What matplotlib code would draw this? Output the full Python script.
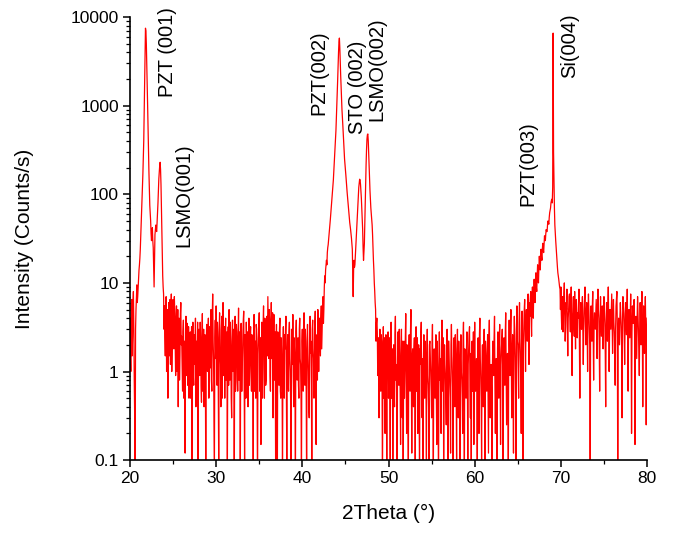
import numpy as np
import matplotlib
matplotlib.use("Agg")
import matplotlib.pyplot as plt
from matplotlib.ticker import FixedLocator, FuncFormatter, LogLocator, NullFormatter

# Lecturas en los grados enteros + decimas (20.0, 20.1, ... 80.0)
# y en los puntos intermedios (20.05, 20.15, ... 79.95).

two_theta = np.arange(400, 1601) / 20.0

counts_20_30 = [
    4.0, 1.0, 6.5, 2.5, 8.0, 0.8, 0.05, 5.0, 9.5, 7.0,
    12, 16, 24, 45, 90, 170, 400, 1500, 7500, 5000,
    1800, 550, 180, 75, 50, 30, 42, 25, 9, 35,
    45, 38, 60, 110, 180, 230, 130, 40, 12, 7.5,
    5.5, 1.5, 7.0, 2.5, 0.5, 6.0, 3.0, 1.2, 7.5, 2.0,
    6.5, 1.8, 4.5, 0.9, 5.5, 2.2, 0.4, 4.0, 1.5, 6.0,
    2.5, 0.6, 3.8, 1.0, 0.12, 4.2, 1.6, 0.7, 3.2, 0.9,
    2.8, 1.1, 0.08, 3.6, 0.7, 2.0, 4.0, 0.5, 1.5, 0.05,
    3.0, 0.9, 2.2, 0.45, 4.5, 1.3, 0.4, 2.6, 0.06, 3.4,
    1.0, 4.0, 0.6, 2.0, 5.0, 0.6, 7.5, 1.4, 0.1, 3.8,
]

counts_30_40 = [
    5.5, 0.7, 2.4, 0.09, 4.6, 1.2, 3.0, 0.5, 6.0, 1.8,
    0.5, 4.0, 1.1, 0.07, 3.2, 5.0, 0.8, 2.2, 0.3, 3.8,
    1.5, 0.05, 4.2, 0.8, 2.8, 0.6, 5.2, 1.0, 0.06, 3.5,
    0.6, 2.5, 4.8, 0.1, 1.8, 3.6, 0.7, 0.4, 4.0, 1.2,
    3.2, 0.6, 2.0, 0.08, 4.4, 1.0, 0.5, 3.0, 0.04, 2.4,
    4.6, 0.9, 0.15, 3.6, 1.6, 5.5, 0.5, 2.8, 0.8, 4.2,
    7.0, 1.4, 3.8, 0.6, 6.0, 2.0, 0.3, 4.4, 1.0, 0.1,
    3.4, 0.05, 2.2, 0.7, 4.0, 0.5, 1.4, 0.06, 3.2, 0.5,
    1.8, 4.2, 0.09, 2.6, 0.6, 3.6, 1.0, 0.05, 2.0, 4.4,
    0.4, 1.6, 0.07, 3.8, 0.8, 2.4, 0.5, 4.0, 1.2, 0.06,
]

counts_40_50 = [
    3.0, 0.6, 4.6, 0.7, 1.8, 0.05, 3.4, 1.0, 0.3, 4.2,
    2.2, 0.08, 3.8, 1.4, 0.6, 4.8, 0.15, 2.6, 5.0, 1.0,
    4.0, 1.5, 5.5, 3.0, 7.0, 5.0, 12, 14, 18, 22,
    27, 35, 45, 60, 80, 110, 145, 220, 340, 525,
    1000, 1950, 4000, 5800, 3000, 1600, 900, 600, 380, 250,
    190, 140, 105, 80, 62, 48, 40, 32, 24, 7,
    18, 16, 24, 38, 60, 100, 135, 145, 110, 70,
    40, 18, 28, 80, 220, 420, 480, 300, 150, 85,
    60, 45, 25, 14, 8, 5, 3.5, 2.8, 1.5, 0.3,
    3.0, 0.6, 2.2, 0.05, 3.2, 1.0, 0.2, 2.6, 0.08, 1.8,
]

counts_50_60 = [
    0.5, 2.4, 0.1, 3.6, 0.9, 0.05, 2.0, 0.4, 4.2, 1.2,
    0.06, 2.8, 0.7, 1.6, 0.15, 3.0, 0.3, 0.04, 2.2, 1.0,
    4.5, 0.2, 1.4, 0.07, 2.6, 0.6, 5.0, 0.12, 1.8, 0.4,
    2.4, 0.05, 3.2, 0.9, 0.2, 2.0, 0.06, 1.2, 3.6, 0.3,
    0.08, 2.6, 0.5, 1.5, 0.1, 3.0, 0.7, 0.05, 2.2, 1.0,
    0.3, 3.4, 0.06, 1.8, 0.5, 2.6, 0.15, 1.1, 0.04, 2.8,
    1.4, 0.2, 3.8, 0.6, 0.08, 2.0, 0.9, 0.25, 3.0, 0.05,
    2.2, 0.7, 0.12, 3.4, 1.0, 0.06, 2.4, 0.4, 1.6, 0.1,
    3.0, 0.3, 1.2, 0.05, 2.6, 0.8, 0.2, 3.6, 0.06, 1.4,
    0.5, 2.8, 0.1, 1.8, 3.2, 0.3, 0.07, 2.2, 0.9, 0.15,
]

counts_60_70 = [
    3.6, 0.6, 1.4, 0.05, 2.4, 0.2, 4.0, 0.8, 0.1, 2.0,
    0.4, 3.0, 0.08, 1.6, 0.6, 2.6, 0.12, 3.8, 0.3, 1.2,
    0.06, 2.2, 0.9, 4.2, 0.2, 1.4, 0.05, 2.8, 0.5, 3.4,
    0.15, 1.8, 3.0, 0.08, 2.4, 0.7, 4.6, 0.25, 1.6, 0.06,
    3.8, 0.9, 5.0, 0.3, 2.6, 0.12, 4.2, 1.4, 0.06, 5.5,
    2.0, 0.5, 6.0, 1.6, 0.2, 4.8, 0.05, 3.2, 6.5, 1.0,
    5.0, 2.2, 7.5, 1.2, 4.2, 8.0, 2.5, 9.0, 4.0, 11,
    6, 13, 8, 16, 10, 20, 14, 24, 18, 28,
    22, 34, 30, 40, 38, 50, 46, 62, 70, 85,
    80, 6600, 150, 45, 30, 20, 15, 12, 10, 8.5,
]

counts_70_80 = [
    9.0, 3.0, 7.0, 4.5, 10, 2.2, 6.0, 8.5, 1.5, 5.0,
    7.5, 2.8, 9.0, 0.9, 5.5, 3.5, 8.0, 1.8, 6.5, 2.4,
    4.0, 8.5, 0.5, 6.0, 3.0, 7.0, 1.2, 5.0, 9.0, 2.0,
    6.0, 1.0, 7.5, 3.2, 0.05, 5.5, 2.2, 8.0, 0.8, 4.6,
    3.0, 6.5, 1.4, 8.5, 4.0, 0.6, 7.0, 2.5, 5.5, 1.8,
    7.0, 3.5, 0.4, 6.0, 2.2, 9.0, 1.0, 5.0, 3.0, 7.5,
    1.6, 6.5, 2.8, 0.7, 5.5, 8.0, 0.05, 4.0, 2.0, 6.0,
    3.2, 0.3, 7.0, 4.5, 1.2, 6.0, 2.6, 8.5, 0.6, 5.0,
    2.4, 7.5, 0.2, 5.5, 3.5, 6.5, 0.15, 4.2, 1.4, 7.0,
    3.0, 0.9, 6.0, 2.0, 8.0, 0.4, 5.5, 1.6, 7.0, 0.25,
    4.0,
]

# puntos intermedios (x.x5)
mid_20_30 = [
    2.0, 5.5, 1.5, 6.0, 3.0, 0.3, 3.0, 7.0, 6.0, 9.0,
    14, 19, 33, 63, 125, 260, 800, 3500, 7000, 3000,
    1000, 300, 110, 60, 36, 38, 30, 14, 18, 40,
    40, 48, 80, 150, 210, 190, 70, 20, 9, 3.0,
    2.5, 6.5, 1.0, 5.0, 3.5, 1.5, 6.5, 4.0, 1.0, 5.0,
    3.0, 7.0, 2.0, 4.0, 1.0, 5.0, 2.5, 0.8, 4.5, 2.0,
    1.2, 2.8, 0.5, 2.2, 3.0, 0.9, 3.5, 1.8, 0.5, 2.4,
    0.5, 3.2, 1.6, 0.9, 2.6, 1.2, 0.4, 2.2, 3.6, 1.0,
    1.6, 3.6, 0.7, 2.4, 0.6, 3.0, 1.6, 0.9, 2.0, 1.2,
    2.6, 0.5, 3.2, 1.1, 0.8, 4.2, 2.2, 0.3, 2.4, 1.4,
]

mid_30_40 = [
    2.0, 3.6, 0.6, 2.8, 1.6, 0.4, 4.2, 2.0, 0.9, 3.2,
    2.2, 0.8, 2.8, 1.8, 0.7, 1.4, 3.6, 0.5, 2.0, 1.0,
    3.0, 1.2, 0.6, 3.4, 1.2, 2.4, 0.8, 2.8, 1.6, 0.6,
    1.4, 3.8, 0.9, 2.6, 0.5, 1.6, 2.8, 1.8, 0.7, 2.6,
    1.0, 2.6, 1.4, 3.0, 0.6, 2.2, 3.4, 0.8, 1.6, 3.2,
    0.6, 2.4, 1.8, 0.5, 3.4, 1.2, 4.0, 0.7, 2.6, 1.5,
    2.8, 5.0, 0.9, 3.2, 1.4, 4.6, 1.8, 0.8, 2.8, 1.6,
    0.8, 2.8, 1.2, 3.0, 0.6, 2.4, 0.9, 1.8, 0.6, 2.6,
    3.0, 0.7, 1.6, 0.8, 2.8, 1.4, 0.4, 3.0, 1.2, 0.9,
    2.4, 0.6, 2.8, 1.6, 2.0, 0.7, 3.0, 1.4, 0.5, 2.2,
]

mid_40_50 = [
    1.4, 2.6, 0.9, 3.0, 0.6, 2.2, 1.6, 0.4, 2.8, 1.6,
    0.7, 3.0, 1.8, 0.5, 3.4, 1.2, 2.4, 0.8, 3.2, 2.6,
    2.5, 4.0, 1.8, 5.0, 3.5, 9.0, 10, 16, 16, 25,
    31, 40, 52, 70, 95, 125, 180, 270, 420, 720,
    1400, 2800, 5200, 4500, 2200, 1200, 750, 480, 300, 220,
    165, 120, 92, 70, 55, 44, 36, 28, 12, 14,
    15, 20, 30, 48, 80, 120, 148, 130, 90, 52,
    25, 22, 45, 140, 320, 470, 400, 210, 110, 70,
    52, 35, 18, 10, 6, 2.2, 4.0, 0.9, 2.4, 1.2,
    1.4, 2.6, 0.8, 1.6, 0.5, 2.4, 1.2, 0.7, 1.5, 2.8,
]

mid_50_60 = [
    1.6, 0.9, 2.4, 0.5, 1.8, 1.1, 0.6, 2.6, 0.8, 0.5,
    1.4, 0.9, 3.0, 0.6, 1.6, 0.8, 2.2, 1.0, 0.5, 2.4,
    1.0, 2.0, 0.5, 1.6, 0.9, 2.8, 0.7, 1.4, 0.6, 1.8,
    0.8, 1.6, 0.6, 2.4, 1.2, 0.5, 1.8, 2.6, 0.7, 1.4,
    1.2, 0.8, 2.2, 0.6, 1.8, 0.9, 0.4, 2.0, 1.4, 0.6,
    2.0, 0.7, 1.4, 0.9, 1.6, 0.5, 2.2, 0.6, 1.2, 0.8,
    0.6, 2.0, 1.0, 2.4, 0.7, 1.2, 0.5, 1.6, 0.9, 2.2,
    1.2, 0.5, 2.0, 1.6, 0.6, 1.4, 0.8, 2.6, 0.7, 1.8,
    1.0, 2.2, 0.6, 1.4, 1.0, 0.5, 2.4, 0.9, 1.8, 0.6,
    1.8, 0.8, 1.2, 2.6, 0.7, 1.6, 1.0, 0.6, 2.8, 1.2,
]

mid_60_70 = [
    1.2, 0.9, 0.6, 1.8, 0.8, 2.6, 1.4, 0.5, 1.2, 0.7,
    1.6, 0.7, 2.2, 0.9, 1.4, 0.6, 2.4, 1.0, 0.8, 0.6,
    1.0, 1.8, 2.4, 0.7, 1.0, 0.6, 1.8, 1.2, 2.2, 0.9,
    1.2, 2.4, 0.8, 1.4, 1.6, 2.8, 1.0, 0.7, 0.9, 2.0,
    1.8, 3.0, 1.4, 1.6, 0.7, 2.4, 2.6, 0.5, 3.0, 2.2,
    1.0, 3.4, 2.4, 0.8, 2.8, 1.2, 2.0, 5.0, 2.6, 3.6,
    3.0, 5.5, 3.0, 6.0, 6.5, 4.0, 6.5, 5.0, 8.0, 8.0,
    10, 9, 12, 12, 15, 16, 19, 20, 24, 24,
    28, 32, 36, 38, 45, 48, 55, 66, 80, 88,
    120, 300, 70, 36, 25, 18, 13, 11, 9, 5.0,
]

mid_70_80 = [
    4.5, 6.0, 2.8, 7.5, 4.0, 3.2, 5.0, 3.0, 4.0, 7.0,
    4.0, 6.0, 2.2, 4.0, 7.0, 2.5, 3.6, 5.0, 3.0, 4.6,
    6.0, 2.4, 3.5, 4.2, 5.0, 2.6, 3.0, 7.0, 3.4, 4.4,
    3.0, 4.6, 5.0, 2.0, 3.2, 4.0, 5.5, 2.6, 3.0, 3.6,
    4.6, 3.0, 5.5, 5.0, 2.0, 3.6, 4.2, 3.8, 2.8, 4.4,
    5.0, 1.6, 3.4, 3.6, 5.5, 4.0, 2.8, 3.8, 5.0, 3.4,
    4.0, 3.6, 1.6, 3.0, 6.5, 3.0, 2.2, 2.8, 4.2, 4.4,
    1.8, 3.6, 5.5, 2.6, 3.4, 4.0, 5.0, 3.2, 2.6, 3.6,
    4.6, 3.2, 2.8, 4.2, 5.0, 2.6, 2.8, 2.4, 4.0, 4.6,
    1.8, 3.6, 3.8, 4.6, 3.0, 2.8, 3.2, 4.2, 3.0, 2.0,
]

main_counts = (counts_20_30 + counts_30_40 + counts_40_50
               + counts_50_60 + counts_60_70 + counts_70_80)
mid_counts = (mid_20_30 + mid_30_40 + mid_40_50
              + mid_50_60 + mid_60_70 + mid_70_80)

intensity = np.empty(len(two_theta))
intensity[0::2] = main_counts
intensity[1::2] = mid_counts

# Etiquetas de los picos (texto, 2theta e intensidad del centro del texto)
peak_labels = ["PZT (001)", "LSMO(001)", "PZT(002)", "STO (002)",
               "LSMO(002)", "PZT(003)", "Si(004)"]
label_x = [24.35, 26.3, 41.95, 46.35, 48.65, 66.2, 71.05]
label_y = [4000, 98, 2350, 1620, 2600, 220, 4800]

y_ticks = [0.1, 1, 10, 100, 1000, 10000]

# --- Grafico ---

plt.rcParams['font.family'] = ['Liberation Sans', 'DejaVu Sans']

fig = plt.figure(figsize=(6.84, 5.35), dpi=100)
ax = fig.add_axes([0.190, 0.140, 0.756, 0.828])

ax.plot(two_theta, intensity, color='#ff0000', linewidth=0.9)

ax.set_yscale('log')
ax.set_xlim(20, 80)
ax.set_ylim(0.1, 10000)

ax.xaxis.set_major_locator(FixedLocator([20, 30, 40, 50, 60, 70, 80]))
ax.xaxis.set_minor_locator(FixedLocator([25, 35, 45, 55, 65, 75]))
ax.yaxis.set_major_locator(FixedLocator(y_ticks))
ax.yaxis.set_major_formatter(FuncFormatter(lambda v, p: f"{v:g}"))
ax.yaxis.set_minor_locator(LogLocator(base=10, subs=np.arange(2, 10)))
ax.yaxis.set_minor_formatter(NullFormatter())

ax.tick_params(which='major', direction='out', length=5, width=1.1,
               labelsize=12.5, color='black', pad=3)
ax.tick_params(which='minor', direction='out', length=3, width=0.9)

for side in ['top', 'right']:
    ax.spines[side].set_visible(False)
for side in ['left', 'bottom']:
    ax.spines[side].set_linewidth(1.2)

ax.set_xlabel('2Theta (°)', fontsize=15, labelpad=13)
ax.set_ylabel('Intensity (Counts/s)', fontsize=15, labelpad=26)

for txt, xx, yy in zip(peak_labels, label_x, label_y):
    ax.text(xx, yy, txt, rotation=90, fontsize=14.5, ha='center',
            va='center', clip_on=False)

fig.savefig('out.png', dpi=100)
